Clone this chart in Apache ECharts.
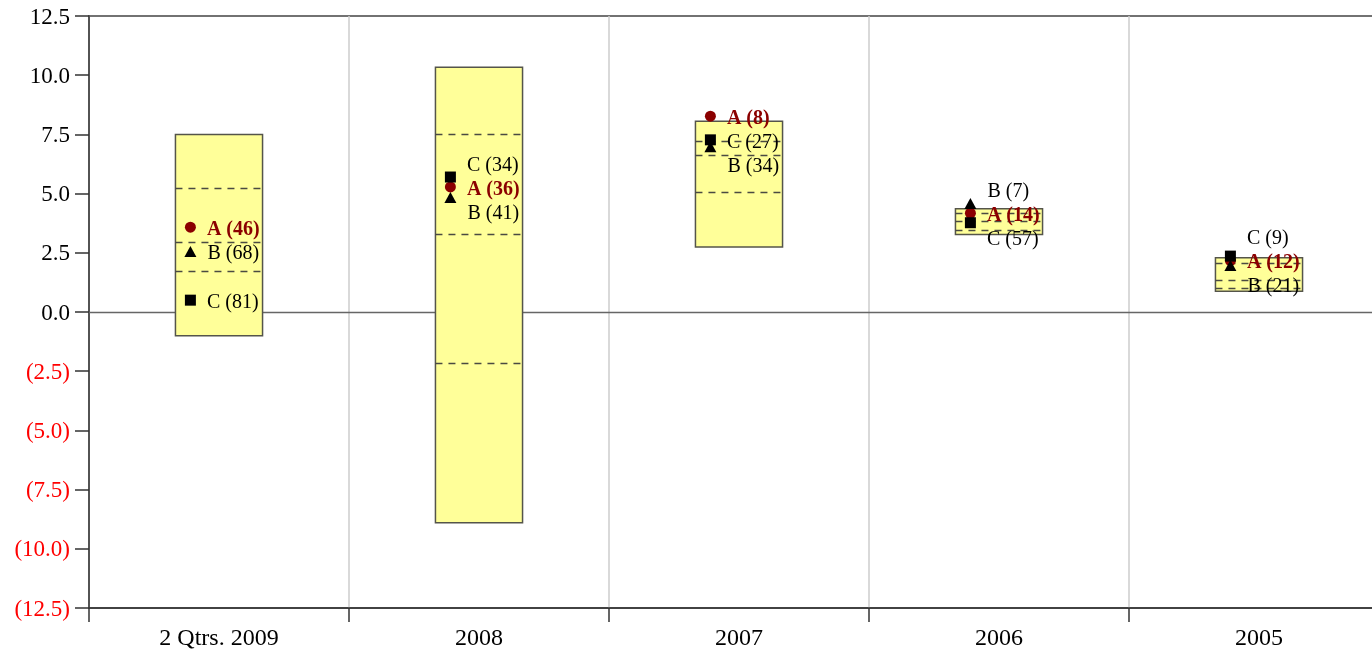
<!DOCTYPE html>
<html>
<head>
<meta charset="utf-8">
<script src="https://cdn.jsdelivr.net/npm/echarts@6/dist/echarts.min.js"></script>
<style>
  html, body { margin: 0; padding: 0; background: #ffffff; overflow: hidden; width: 1372px; height: 657px; }
  /* the plot runs a little past the right edge of the page, so the last band is cut off */
  #chart { width: 1389px; height: 657px; }
</style>
</head>
<body>
<div id="chart"></div>
<script>
// Periods along the x axis
const categories = ['2 Qtrs. 2009', '2008', '2007', '2006', '2005'];

// Range boxes: outer extent and the three dashed reference levels
const boxHigh   = [7.50, 10.34, 8.06, 4.36, 2.29];
const boxLow    = [-1.00, -8.90, 2.74, 3.27, 0.88];
const dashUpper = [5.24, 7.52, 7.21, 4.19, 2.08];
const dashMid   = [2.95, 3.30, 6.65, 3.83, 1.37];
const dashLower = [1.75, -2.17, 5.06, 3.48, 1.02];

// Point values for A, B, C and the counts shown in their labels
const valuesA = [3.58, 5.28, 8.27, 4.17, 2.17];
const valuesB = [2.55, 4.84, 6.98, 4.58, 1.96];
const valuesC = [0.50, 5.70, 7.27, 3.77, 2.36];
const countsA = [46, 36, 8, 14, 12];
const countsB = [68, 41, 34, 7, 21];
const countsC = [81, 34, 27, 57, 9];

// Value axis ticks
const yMin = -12.5, yMax = 12.5, yStep = 2.5;

const SERIF = '"Liberation Serif", "Times New Roman", "DejaVu Serif", serif';
const GRID = { left: 89, top: 16, right: 0, bottom: 49 };
const PLOT_WIDTH = 1389 - GRID.left - GRID.right;
const bandWidth = PLOT_WIDTH / categories.length;
const markerDx = -bandWidth * 0.11;
const LABEL_GAP = 24;
const LABEL_BASELINE_NUDGE = 2.5;

const pointSeries = [
  { name: 'A', values: valuesA, counts: countsA, symbol: 'circle',   size: 11,       color: '#8B0000', bold: true },
  { name: 'B', values: valuesB, counts: countsB, symbol: 'triangle', size: [12, 11], color: '#000000', bold: false },
  { name: 'C', values: valuesC, counts: countsC, symbol: 'rect',     size: 11,       color: '#000000', bold: false }
];

function tickText(v) {
  const s = Math.abs(v).toFixed(1);
  return v < 0 ? '{neg|(' + s + ')}' : '{pos|' + s + '}';
}

// Zero reference line across the whole plot, kept underneath the boxes
function zeroLineSeries() {
  return {
    type: 'custom',
    name: 'zero',
    z: 1,
    silent: true,
    data: [[0, 0]],
    renderItem(params, api) {
      const cs = params.coordSys;
      const y = Math.round(api.coord([0, api.value(1)])[1]) + 0.5;
      return {
        type: 'line',
        shape: { x1: cs.x, y1: y, x2: cs.x + cs.width, y2: y },
        style: { stroke: '#666666', lineWidth: 1.5 }
      };
    }
  };
}

function boxSeries() {
  return {
    type: 'custom',
    name: 'range',
    z: 2,
    silent: true,
    data: categories.map((c, i) => [i, boxLow[i], boxHigh[i], dashUpper[i], dashMid[i], dashLower[i]]),
    renderItem(params, api) {
      const x = api.value(0);
      const lo = api.coord([x, api.value(1)]);
      const hi = api.coord([x, api.value(2)]);
      const w = api.size([1, 0])[0] * 0.335;
      const left = lo[0] - w / 2;
      const children = [{
        type: 'rect',
        shape: { x: left, y: hi[1], width: w, height: lo[1] - hi[1] },
        style: { fill: '#FFFF99', stroke: '#55554a', lineWidth: 1.5 }
      }];
      for (let k = 3; k <= 5; k++) {
        const y = Math.round(api.coord([x, api.value(k)])[1]) + 0.5;
        children.push({
          type: 'line',
          shape: { x1: left, y1: y, x2: left + w, y2: y },
          style: { stroke: '#4a4a42', lineWidth: 1.3, lineDash: [7, 6] }
        });
      }
      return { type: 'group', children };
    }
  };
}

function markerSeries(def, shifts) {
  return {
    type: 'scatter',
    name: def.name,
    z: 3,
    silent: true,
    symbol: def.symbol,
    symbolSize: def.size,
    symbolOffset: [markerDx, 0],
    itemStyle: { color: def.color, opacity: 1 },
    data: def.values.map((v, i) => ({
      value: [i, v],
      label: { offset: [0, (shifts ? shifts[i] : 0) + LABEL_BASELINE_NUDGE] }
    })),
    label: {
      show: true,
      position: 'right',
      distance: 11,
      formatter: p => def.name + ' (' + def.counts[p.dataIndex] + ')',
      color: def.color,
      fontWeight: def.bold ? 'bold' : 'normal',
      fontSize: 20,
      fontFamily: SERIF
    },
    emphasis: { disabled: true }
  };
}

const chart = echarts.init(document.getElementById('chart'), null, { renderer: 'canvas' });

const option = {
  animation: false,
  backgroundColor: '#ffffff',
  grid: {
    left: GRID.left, top: GRID.top, right: GRID.right, bottom: GRID.bottom,
    containLabel: false,
    show: true, borderColor: '#444444', borderWidth: 1.5, backgroundColor: 'transparent'
  },
  xAxis: {
    type: 'category',
    data: categories,
    boundaryGap: true,
    axisLine: { onZero: false, lineStyle: { color: '#333333', width: 1.5 } },
    axisTick: { show: true, length: 14, alignWithLabel: false, lineStyle: { color: '#333333', width: 1.5 } },
    axisLabel: { color: '#000000', fontSize: 24, fontFamily: SERIF, margin: 19 },
    splitLine: { show: true, lineStyle: { color: '#cccccc', width: 1.5 } }
  },
  yAxis: {
    type: 'value',
    min: yMin, max: yMax, interval: yStep,
    axisLine: { show: true, lineStyle: { color: '#333333', width: 1.5 } },
    axisTick: { show: true, length: 14, lineStyle: { color: '#333333', width: 1.5 } },
    splitLine: { show: false },
    axisLabel: {
      margin: 19,
      formatter: tickText,
      rich: {
        pos: { color: '#000000', fontSize: 23, fontFamily: SERIF, padding: [3, 0, 0, 0] },
        neg: { color: '#ff0000', fontSize: 23, fontFamily: SERIF, padding: [3, 0, 0, 0] }
      }
    }
  },
  series: [zeroLineSeries(), boxSeries()].concat(pointSeries.map(d => markerSeries(d, null)))
};

chart.setOption(option);

// Spread the point labels in each period so they do not overlap:
// overlapping labels are grouped and stacked LABEL_GAP apart around the group's middle point.
function labelShifts() {
  const shifts = pointSeries.map(() => categories.map(() => 0));
  categories.forEach((c, i) => {
    const pts = pointSeries.map((d, s) => ({ s, y: chart.convertToPixel({ yAxisIndex: 0 }, d.values[i]) }));
    pts.sort((a, b) => a.y - b.y);
    let clusters = pts.map(p => ({ items: [p] }));
    const place = cl => {
      const n = cl.items.length;
      const ys = cl.items.map(p => p.y);
      const mid = n % 2 ? ys[(n - 1) / 2] : (ys[n / 2 - 1] + ys[n / 2]) / 2;
      cl.pos = cl.items.map((p, j) => mid + (j - (n - 1) / 2) * LABEL_GAP);
    };
    clusters.forEach(place);
    let merged = true;
    while (merged) {
      merged = false;
      for (let k = 0; k < clusters.length - 1; k++) {
        const a = clusters[k], b = clusters[k + 1];
        if (b.pos[0] - a.pos[a.pos.length - 1] < LABEL_GAP - 0.5) {
          const m = { items: a.items.concat(b.items) };
          place(m);
          clusters.splice(k, 2, m);
          merged = true;
          break;
        }
      }
    }
    clusters.forEach(cl => cl.items.forEach((p, j) => { shifts[p.s][i] = cl.pos[j] - p.y; }));
  });
  return shifts;
}

const shifts = labelShifts();
chart.setOption({
  series: [zeroLineSeries(), boxSeries()].concat(pointSeries.map((d, s) => markerSeries(d, shifts[s])))
});
</script>
</body>
</html>
